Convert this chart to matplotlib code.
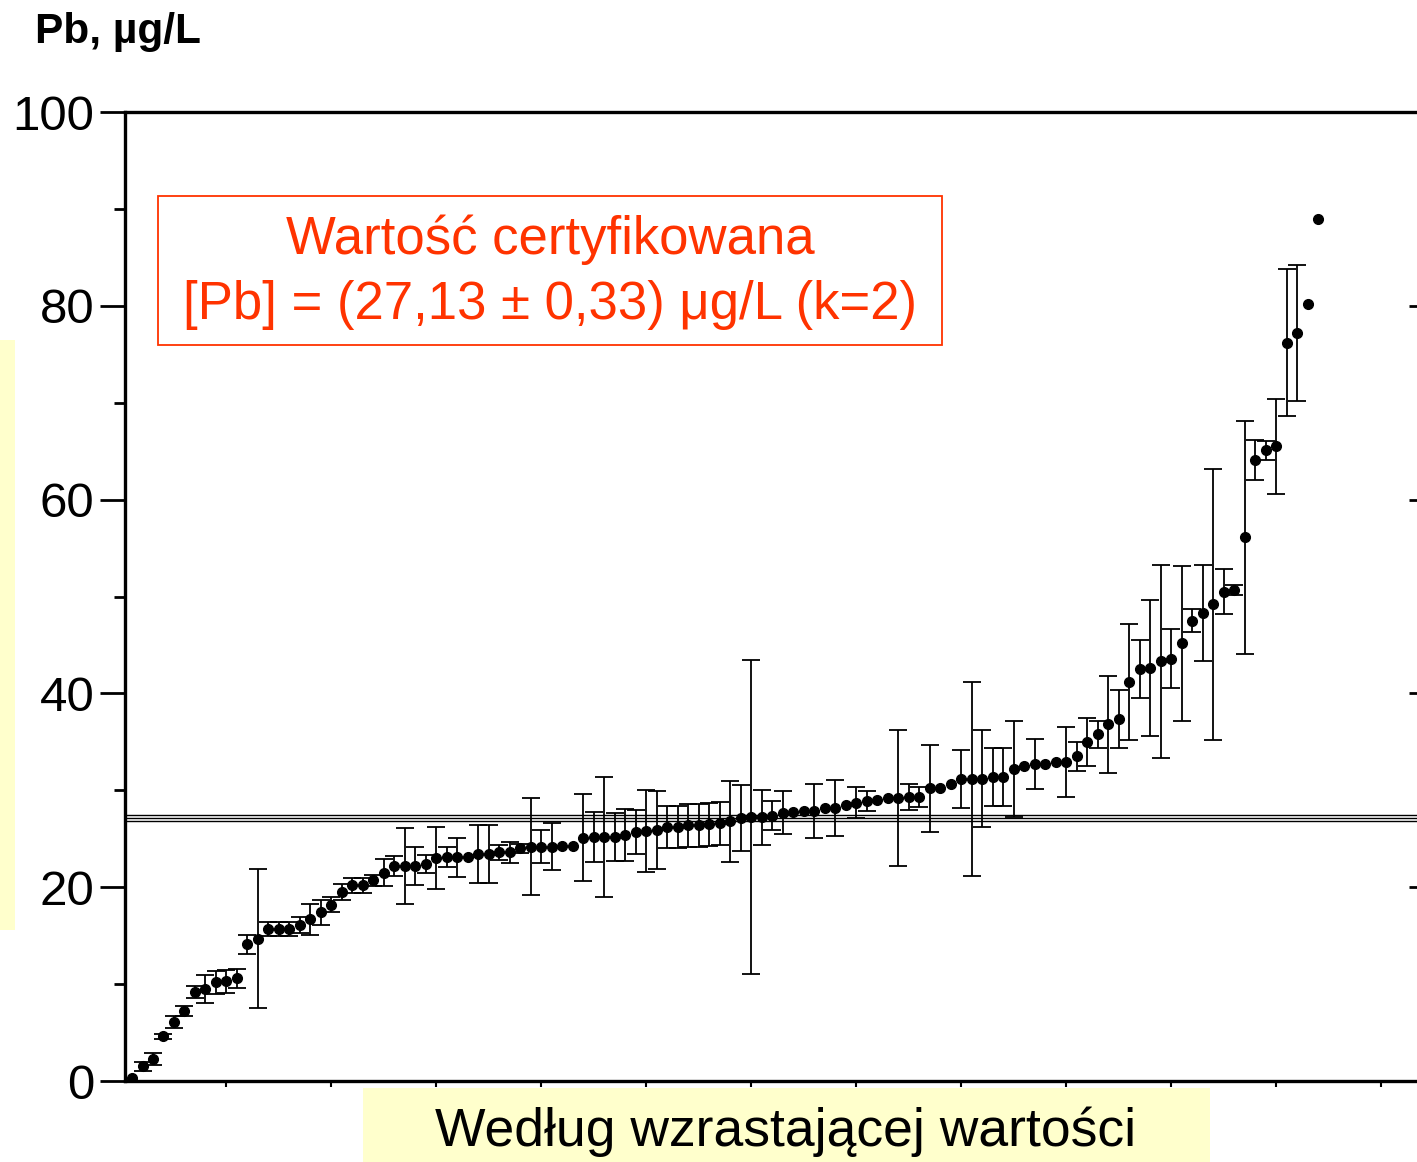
import matplotlib
matplotlib.use("Agg")
import matplotlib.pyplot as plt
import numpy as np
from matplotlib.patches import Rectangle

plt.rcParams["font.family"] = ["Liberation Sans", "DejaVu Sans"]

# wyniki uczestników, posortowane rosnąco (Pb, µg/L)
pb_values = [
    0.3, 1.5, 2.3, 4.6, 6.1, 7.2, 9.2, 9.5, 10.2, 10.3,
    10.6, 14.1, 14.7, 15.7, 15.7, 15.7, 16.1, 16.7, 17.4, 18.2,
    19.5, 20.2, 20.2, 20.7, 21.5, 22.2, 22.2, 22.2, 22.4, 23.0,
    23.1, 23.1, 23.1, 23.4, 23.4, 23.6, 23.6, 24.0, 24.2, 24.2,
    24.2, 24.3, 24.3, 25.1, 25.2, 25.2, 25.2, 25.4, 25.7, 25.8,
    25.9, 26.2, 26.2, 26.4, 26.4, 26.5, 26.6, 26.8, 27.1, 27.2,
    27.2, 27.4, 27.7, 27.8, 27.9, 27.9, 28.2, 28.2, 28.5, 28.7,
    28.9, 29.0, 29.2, 29.2, 29.3, 29.3, 30.2, 30.2, 30.6, 31.2,
    31.2, 31.2, 31.4, 31.4, 32.2, 32.5, 32.7, 32.7, 32.9, 32.9,
    33.5, 35.0, 35.8, 36.8, 37.4, 41.2, 42.5, 42.6, 43.3, 43.6,
    45.2, 47.5, 48.3, 49.2, 50.5, 50.7, 56.1, 64.1, 65.1, 65.5,
    76.2, 77.2, 80.2, 89.0,
]
# niepewności (0 = brak słupka)
pb_unc = [
    0, 0.5, 0.6, 0.3, 0.6, 0.5, 0.6, 1.4, 1.2, 1.2,
    1.0, 1.0, 7.2, 0.7, 0.7, 0.7, 0.8, 1.6, 1.3, 0.8,
    0.8, 0.8, 0.8, 0.6, 1.4, 1.0, 3.9, 2.0, 0.9, 3.2,
    1.0, 2.0, 0, 3.0, 3.0, 0.8, 1.1, 0.5, 5.0, 1.7,
    2.4, 0, 0, 4.5, 2.6, 6.2, 2.5, 2.7, 2.3, 4.2,
    4.0, 2.2, 2.2, 2.2, 2.2, 2.2, 2.2, 4.2, 3.4, 16.2,
    2.8, 1.5, 2.2, 0, 0, 2.8, 0, 2.9, 0, 1.6,
    1.0, 0, 0, 7.0, 1.3, 1.0, 4.5, 0, 0, 3.0,
    10.0, 5.0, 3.0, 3.0, 5.0, 0, 2.6, 0, 0, 3.6,
    1.5, 2.5, 1.4, 5.0, 3.0, 6.0, 3.0, 7.0, 10.0, 3.0,
    8.0, 1.2, 5.0, 14.0, 2.3, 0.5, 12.0, 2.1, 1.0, 4.9,
    7.6, 7.0, 0, 0,
]
cert_value = 27.13
cert_unc = 0.33

red = "#ff3300"
yellow = "#ffffcc"

vals = np.array(pb_values)
err = np.array(pb_unc)
xs = np.arange(1, len(vals) + 1)
m = err > 0

fig = plt.figure(figsize=(14.17, 11.62), dpi=100)
ax = fig.add_axes([0.0882, 0.0697, 1.002 - 0.0882, 0.9036 - 0.0697])

for yv in (cert_value - cert_unc, cert_value, cert_value + cert_unc):
    ax.axhline(yv, color="black", lw=1.0, zorder=1)

ax.errorbar(xs[m], vals[m], yerr=err[m], fmt="none", ecolor="black",
            elinewidth=1.3, capsize=6.8, capthick=1.3, zorder=2)
ax.plot(xs, vals, "o", color="black", ms=7, zorder=3)

ax.set_xlim(0.33, 123.7)
ax.set_ylim(0, 100)
ax.set_yticks(np.arange(0, 101, 20))
ax.set_yticks(np.arange(10, 100, 20), minor=True)
ax.set_xticks(np.arange(10, 121, 10))
ax.set_xticklabels([])
ax.tick_params(axis="y", which="major", direction="out", length=18, width=2,
               labelsize=35.5, pad=4, right=False)
ax.tick_params(axis="y", which="minor", direction="out", length=8, width=2,
               right=False)
ax.tick_params(axis="x", direction="out", length=4, width=1.5)
for s in ax.spines.values():
    s.set_linewidth(2.4)

sec = ax.secondary_yaxis("right")
sec.set_yticks([20, 40, 60, 80])
sec.tick_params(direction="in", length=8, width=2, labelright=False)
sec.spines["right"].set_linewidth(2.4)

# ramka z wartością certyfikowaną
fig.add_artist(Rectangle((0.1115, 0.7031), 0.5533, 0.1282, transform=fig.transFigure,
                         fill=False, edgecolor=red, lw=1.3))
fig.text(0.3881, 0.7935, "Wartość certyfikowana", color=red, fontsize=38,
         ha="center", va="center")
fig.text(0.3881, 0.7375, "[Pb] = (27,13 ± 0,33) μg/L (k=2)", color=red, fontsize=38,
         ha="center", va="center")

fig.text(0.0247, 0.9725, "Pb, µg/L", fontsize=30.5, fontweight="bold",
         ha="left", va="center")

fig.add_artist(Rectangle((0.2562, 0.0), 0.5977, 0.0637, transform=fig.transFigure,
                         facecolor=yellow, edgecolor="none", zorder=0))
fig.text(0.5547, 0.0258, "Według wzrastającej wartości", fontsize=38.5,
         ha="center", va="center")

fig.add_artist(Rectangle((0.0, 0.1997), 0.0106, 0.5077, transform=fig.transFigure,
                         facecolor=yellow, edgecolor="none", zorder=0))

fig.savefig("out.png", dpi=100)
